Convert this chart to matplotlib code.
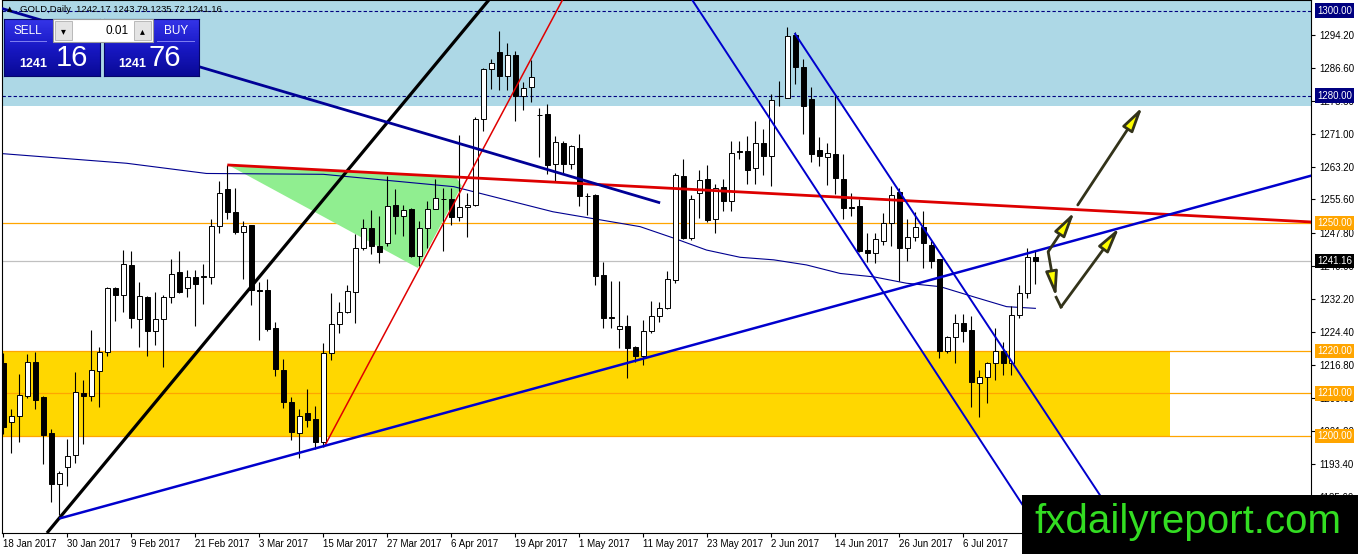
import matplotlib
matplotlib.use("Agg")
import matplotlib.pyplot as plt
import numpy as np
import pandas as pd
from matplotlib.patches import Rectangle, Polygon
from matplotlib.colors import LinearSegmentedColormap

plt.rcParams['font.family'] = ['Liberation Sans', 'DejaVu Sans']

# daily GOLD bars, 18 Jan 2017 .. 19 Jul 2017 (no bar on Good Friday)
opens = [1217.1, 1203.4, 1204.6, 1209.3, 1217.5, 1209.1, 1200.7, 1188.7, 1192.7, 1195.6,
         1210.1, 1209.3, 1215.3, 1219.8, 1234.8, 1233.1, 1240.2, 1227.6, 1232.7, 1224.7,
         1227.4, 1232.7, 1238.5, 1234.7, 1237.3, 1237.4, 1237.3, 1249.3, 1258.1, 1252.6,
         1248.0, 1249.5, 1234.2, 1234.2, 1225.4, 1215.6, 1208.0, 1200.8, 1205.5, 1204.0,
         1198.6, 1219.5, 1226.3, 1229.2, 1233.8, 1244.2, 1248.8, 1244.6, 1245.4, 1254.2,
         1251.7, 1253.3, 1242.3, 1248.9, 1253.3, 1255.6, 1255.6, 1251.5, 1253.9, 1254.4,
         1274.5, 1286.3, 1290.2, 1284.6, 1289.6, 1279.8, 1282.0, 1275.5, 1275.7, 1263.9,
         1268.8, 1263.9, 1267.8, 1256.5, 1256.6, 1237.9, 1227.9, 1225.1, 1225.9, 1221.0,
         1218.7, 1224.6, 1228.1, 1230.1, 1236.6, 1261.1, 1246.6, 1257.0, 1260.3, 1251.1,
         1258.6, 1255.2, 1266.9, 1266.9, 1262.9, 1268.8, 1265.7, 1279.9, 1279.4, 1294.2,
         1286.8, 1279.2, 1267.2, 1265.5, 1266.2, 1260.5, 1253.8, 1254.1, 1243.6, 1243.1,
         1245.8, 1250.0, 1257.4, 1244.2, 1246.8, 1249.2, 1245.0, 1241.5, 1219.9, 1223.2,
         1226.5, 1225.0, 1212.5, 1213.8, 1217.1, 1219.9, 1217.1, 1228.5, 1233.6, 1242.17]
highs = [1219.5, 1206.3, 1214.6, 1219.3, 1219.7, 1209.5, 1201.7, 1191.7, 1199.4, 1215.1,
         1213.2, 1224.8, 1220.8, 1235.0, 1235.0, 1243.8, 1243.4, 1236.3, 1232.9, 1233.9,
         1233.1, 1241.5, 1243.5, 1238.9, 1238.9, 1240.4, 1251.0, 1260.0, 1263.7, 1258.2,
         1250.6, 1249.6, 1236.3, 1236.9, 1226.9, 1218.2, 1209.1, 1206.3, 1211.0, 1207.1,
         1221.8, 1233.6, 1231.6, 1235.5, 1247.4, 1251.1, 1253.1, 1251.7, 1261.1, 1258.1,
         1254.4, 1253.5, 1250.5, 1255.2, 1260.5, 1258.4, 1258.4, 1270.7, 1257.2, 1274.9,
         1286.6, 1288.6, 1295.3, 1292.4, 1290.6, 1283.1, 1288.3, 1277.2, 1278.0, 1270.6,
         1269.4, 1268.5, 1271.0, 1257.2, 1256.8, 1240.8, 1236.4, 1236.4, 1228.5, 1221.2,
         1227.3, 1231.7, 1231.4, 1238.7, 1261.8, 1265.1, 1256.6, 1262.5, 1263.6, 1259.2,
         1260.3, 1269.4, 1269.4, 1270.6, 1274.1, 1272.1, 1280.4, 1283.5, 1296.1, 1294.9,
         1288.6, 1282.0, 1270.2, 1268.8, 1280.2, 1266.2, 1257.2, 1255.6, 1247.8, 1247.8,
         1252.5, 1258.8, 1258.4, 1250.9, 1252.6, 1252.9, 1245.8, 1241.7, 1223.4, 1228.7,
         1228.7, 1228.3, 1215.4, 1217.3, 1225.4, 1222.2, 1230.5, 1235.6, 1244.2, 1243.79]
lows = [1200.5, 1195.9, 1198.6, 1209.0, 1206.3, 1193.3, 1184.4, 1181.4, 1188.3, 1193.6,
        1198.2, 1208.2, 1206.9, 1218.9, 1227.1, 1229.2, 1225.3, 1221.0, 1218.7, 1221.5,
        1216.2, 1231.2, 1233.5, 1232.6, 1225.9, 1231.0, 1235.7, 1247.7, 1251.0, 1247.5,
        1236.9, 1230.8, 1222.6, 1224.7, 1214.0, 1206.5, 1199.1, 1194.9, 1202.2, 1196.9,
        1197.5, 1217.9, 1224.2, 1229.0, 1226.5, 1243.8, 1242.7, 1240.7, 1244.6, 1247.4,
        1247.0, 1242.1, 1239.9, 1244.2, 1253.3, 1243.4, 1249.7, 1250.5, 1246.8, 1254.1,
        1271.7, 1281.6, 1281.2, 1281.2, 1274.1, 1276.5, 1278.4, 1265.5, 1261.5, 1260.0,
        1261.5, 1262.7, 1254.1, 1251.9, 1235.6, 1225.4, 1225.4, 1220.6, 1213.6, 1217.5,
        1216.7, 1224.2, 1226.7, 1229.8, 1236.0, 1246.2, 1246.0, 1251.3, 1250.3, 1247.8,
        1252.9, 1252.9, 1265.1, 1259.2, 1259.2, 1261.3, 1258.8, 1277.6, 1279.4, 1282.8,
        1271.0, 1264.4, 1263.5, 1259.0, 1256.8, 1251.1, 1251.7, 1243.2, 1240.8, 1240.7,
        1245.0, 1244.6, 1236.4, 1241.1, 1245.8, 1239.5, 1239.5, 1218.3, 1219.6, 1217.1,
        1222.2, 1206.9, 1204.4, 1207.8, 1213.2, 1214.4, 1214.4, 1227.7, 1232.4, 1235.72]
closes = [1202.1, 1204.6, 1209.7, 1217.5, 1208.4, 1200.3, 1188.7, 1191.3, 1195.4, 1210.3,
          1209.3, 1215.5, 1219.7, 1234.8, 1233.1, 1240.4, 1227.7, 1233.0, 1224.7, 1227.6,
          1232.7, 1238.1, 1233.8, 1237.3, 1235.7, 1237.5, 1249.3, 1257.1, 1252.6, 1248.0,
          1249.3, 1234.2, 1234.0, 1225.1, 1215.7, 1208.1, 1201.0, 1204.7, 1203.8, 1198.6,
          1219.5, 1226.3, 1229.1, 1234.0, 1244.2, 1248.8, 1244.6, 1243.2, 1254.1, 1251.7,
          1253.1, 1242.3, 1248.9, 1253.3, 1256.0, 1255.7, 1251.5, 1253.9, 1254.4, 1274.5,
          1286.3, 1287.6, 1284.6, 1289.6, 1279.8, 1281.7, 1284.3, 1275.4, 1263.7, 1269.0,
          1263.9, 1268.2, 1256.3, 1256.3, 1237.7, 1227.7, 1227.8, 1225.9, 1220.6, 1218.7,
          1224.6, 1228.1, 1230.1, 1236.8, 1261.3, 1246.6, 1255.6, 1260.2, 1250.8, 1258.4,
          1255.2, 1266.6, 1266.8, 1262.5, 1268.8, 1265.7, 1279.0, 1279.8, 1294.0, 1286.8,
          1277.6, 1266.2, 1265.7, 1266.4, 1260.7, 1253.7, 1253.6, 1243.4, 1243.1, 1246.2,
          1250.1, 1256.6, 1244.2, 1246.8, 1249.2, 1245.3, 1241.1, 1219.9, 1223.2, 1226.5,
          1224.6, 1212.8, 1213.8, 1217.1, 1219.9, 1217.1, 1228.5, 1233.6, 1242.1, 1241.16]

dates = pd.bdate_range("2017-01-18", "2017-07-19")
dates = dates[dates != pd.Timestamp("2017-04-14")]

# thin navy moving average (bar index, price)
ma_bars = [-0.4, 15.4, 25.4, 40.0, 56.3, 68.7, 79.6, 83.8, 87.9, 92.1, 96.3, 100.4,
           104.6, 108.8, 112.9, 117.1, 121.3, 125.4, 129]
ma_vals = [1266.4, 1264.1, 1261.7, 1261.5, 1258.6, 1252.7, 1249.2, 1246.5, 1243.7, 1242.0,
           1241.4, 1240.2, 1238.2, 1237.4, 1235.9, 1235.1, 1232.7, 1230.4, 1230.0]

# trendlines: (bar0, price0, bar1, price1)
black_line = (5.46, 1177.2, 60.7, 1302.5)
red_steep = (40.1, 1197.4, 69.9, 1302.5)
red_flat = (28.0, 1263.7, 163.5, 1250.3)
blue_support = (7.0, 1180.6, 163.5, 1261.2)
navy_down = (-0.4, 1300.6, 82.1, 1254.8)
channel_a = (86.1, 1302.5, 129.7, 1177.2)
channel_b = (98.9, 1294.7, 140.2, 1177.2)

# green triangle (bar, price)
tri_bars = [28.3, 56.5, 57.3, 51.8]
tri_vals = [1263.5, 1261.1, 1258.8, 1239.5]

# projection arrows
arrow_segs = [((130.6, 1243.3), (133.9, 1252.7)),
              ((134.3, 1254.3), (142.4, 1277.4)),
              ((130.6, 1243.3), (131.6, 1232.6)),
              ((132.2, 1230.3), (139.5, 1249.0))]

y_ticks = [1294.2, 1286.6, 1278.8, 1271.0, 1263.2, 1255.6, 1247.8, 1240.0,
           1232.2, 1224.4, 1216.8, 1209.0, 1201.2, 1193.4, 1185.6]
orange_levels = [1250, 1220, 1210, 1200]
dashed_levels = [1300, 1280]
blue_zone = (1277.6, 1310)
gold_zone = (1200, 1220, 145.8)

W, H = 1358, 554
fig = plt.figure(figsize=(W / 100, H / 100), dpi=100)
ax = fig.add_axes([2 / W, 21 / H, 1309 / W, 533 / H])
ax.set_xlim(-0.16, 163.45)
ax.set_ylim(1177.2, 1302.47)

x = np.arange(len(opens))
o, h, l, c = map(np.array, (opens, highs, lows, closes))

# zones and levels
ax.axhspan(blue_zone[0], blue_zone[1], color='#ADD8E6', lw=0, zorder=0.3)
ax.add_patch(Rectangle((-5, gold_zone[0]), gold_zone[2] + 5, gold_zone[1] - gold_zone[0],
                       fc='#FFD700', ec='none', zorder=0.4))
for lv in orange_levels:
    ax.axhline(lv, color='#FFA500', lw=0.9, zorder=0.8)
for lv in dashed_levels:
    ax.axhline(lv, color='#000080', lw=0.8, ls=(0, (3, 2)), zorder=0.8)
ax.axhline(closes[-1], color='#C0C0C0', lw=0.9, zorder=0.8)

ax.add_patch(Polygon(np.column_stack([tri_bars, tri_vals]), closed=True,
                     fc='#90EE90', ec='none', zorder=0.9))
ax.plot(ma_bars, ma_vals, color='#000090', lw=0.8, zorder=1.0)

# candles
ax.vlines(x, l, h, color='black', lw=0.8, zorder=2)
bottoms = np.minimum(o, c)
heights = np.maximum(np.abs(c - o), 0.12)
faces = np.where(c >= o, 'white', 'black')
ax.bar(x, heights, 0.6, bottoms, color=faces, edgecolor='black', lw=0.7, zorder=3)

# trendlines
def seg(line, **kw):
    ax.plot([line[0], line[2]], [line[1], line[3]], solid_capstyle='butt', **kw)

seg(black_line, color='black', lw=2.3, zorder=4)
seg(red_steep, color='#E00000', lw=1.1, zorder=4)
seg(red_flat, color='#DD0000', lw=2.0, zorder=4)
seg(blue_support, color='#0000CD', lw=1.8, zorder=4)
seg(navy_down, color='#000096', lw=2.0, zorder=4)
seg(channel_a, color='#0000CD', lw=1.4, zorder=4)
seg(channel_b, color='#0000CD', lw=1.4, zorder=4)

for start, end in arrow_segs:
    ax.annotate('', xy=end, xytext=start, zorder=5,
                arrowprops=dict(arrowstyle='-|>,head_length=1.25,head_width=0.3',
                                mutation_scale=12, lw=2.0, fc='#FFFF00', ec='#33331A',
                                shrinkA=0, shrinkB=0))
ax.plot([arrow_segs[2][1][0], arrow_segs[3][0][0]],
        [arrow_segs[2][1][1], arrow_segs[3][0][1]], color='#33331A', lw=2.0, zorder=5)

# axes
for sp in ax.spines.values():
    sp.set_color('black')
    sp.set_linewidth(0.8)
ax.yaxis.tick_right()
ax.set_yticks(y_ticks)
ax.set_yticklabels([f"{v:.2f}" for v in y_ticks])
ax.tick_params(axis='y', length=3, width=0.8, pad=3, labelsize=7)
xt = list(range(0, len(dates), 8))
ax.set_xticks(xt)
ax.set_xticklabels([f"{dates[i].day} {dates[i].strftime('%b %Y')}" for i in xt], ha='left')
ax.tick_params(axis='x', length=3, width=0.8, pad=1.5, labelsize=7)

price_boxes = [(1300, '#000080'), (1280, '#000080'), (1250, '#FFA500'),
               (closes[-1], 'black'), (1220, '#FFA500'), (1210, '#FFA500'), (1200, '#FFA500')]
for val, col in price_boxes:
    ax.text(1.0047, val, f"{val:.2f}", transform=ax.get_yaxis_transform(), ha='left',
            va='center', fontsize=7, color='white', zorder=10, clip_on=False,
            bbox=dict(boxstyle='square,pad=0.22', fc=col, ec='none'))

# header
fig.text(20 / W, 1 - 10 / H,
         f"GOLD,Daily  {opens[-1]:.2f} {highs[-1]:.2f} {lows[-1]:.2f} {closes[-1]:.2f}",
         fontsize=6.8, va='center', ha='left', zorder=30)
fig.text(10 / W, 1 - 9 / H, '▲', fontsize=5, va='center', ha='center',
         family='DejaVu Sans', zorder=30)

# one-click trading widget
def fpx(x0, y0, x1, y1):
    return [x0 / W, 1 - y1 / H, (x1 - x0) / W, (y1 - y0) / H]

grad = LinearSegmentedColormap.from_list('p', ['#3434E8', '#1818C4', '#0A0A96'])
for box in [(3.5, 19, 100, 76), (103.5, 19, 199, 76)]:
    pax = fig.add_axes(fpx(*box), zorder=20)
    pax.imshow(np.linspace(0, 1, 60).reshape(-1, 1), cmap=grad, aspect='auto')
    pax.set_xticks([])
    pax.set_yticks([])
    for sp in pax.spines.values():
        sp.set_color('#06066A')
        sp.set_linewidth(0.8)

def frect(x0, y0, x1, y1, **kw):
    fig.add_artist(Rectangle((x0 / W, 1 - y1 / H), (x1 - x0) / W, (y1 - y0) / H,
                             transform=fig.transFigure, **kw))

frect(53, 19, 153, 42, fc='white', ec='#9A9A9A', lw=0.8, zorder=21)
frect(55, 21, 72, 40, fc='#E4E4E4', ec='#B0B0B0', lw=0.6, zorder=22)
frect(134, 21, 151, 40, fc='#E4E4E4', ec='#B0B0B0', lw=0.6, zorder=22)
frect(10, 41, 47, 42, fc='#7C7CF0', ec='none', zorder=22)
frect(157, 41, 195, 42, fc='#7C7CF0', ec='none', zorder=22)

fig.text(63.5 / W, 1 - 31 / H, '▾', fontsize=7, family='DejaVu Sans', ha='center',
         va='center', zorder=25)
fig.text(142.5 / W, 1 - 31 / H, '▴', fontsize=7, family='DejaVu Sans', ha='center',
         va='center', zorder=25)
fig.text(129 / W, 1 - 31 / H, '0.01', fontsize=8.5, ha='right', va='center', zorder=25)
fig.text(28 / W, 1 - 31 / H, 'SELL', fontsize=8.5, color='white', ha='center',
         va='center', zorder=25)
fig.text(176 / W, 1 - 31 / H, 'BUY', fontsize=8.5, color='white', ha='center',
         va='center', zorder=25)

bid = f"{closes[-1]:.2f}"
ask = f"{closes[-1] + 0.60:.2f}"
fig.text(33 / W, 1 - 64 / H, bid[:4], fontsize=9, color='white', ha='center', va='center',
         weight='bold', zorder=25)
fig.text(72 / W, 1 - 58 / H, bid[5:], fontsize=21, color='white', ha='center', va='center',
         zorder=25)
fig.text(132 / W, 1 - 64 / H, ask[:4], fontsize=9, color='white', ha='center', va='center',
         weight='bold', zorder=25)
fig.text(165 / W, 1 - 58 / H, ask[5:], fontsize=21, color='white', ha='center', va='center',
         zorder=25)

# watermark box
frect(1022, 495, 1358, 554, fc='black', ec='none', zorder=40)
fig.text(1188 / W, 1 - 522 / H, 'fxdailyreport.com', fontsize=29, color='#33DD22',
         ha='center', va='center', zorder=41)

fig.savefig('out.png', dpi=100)
